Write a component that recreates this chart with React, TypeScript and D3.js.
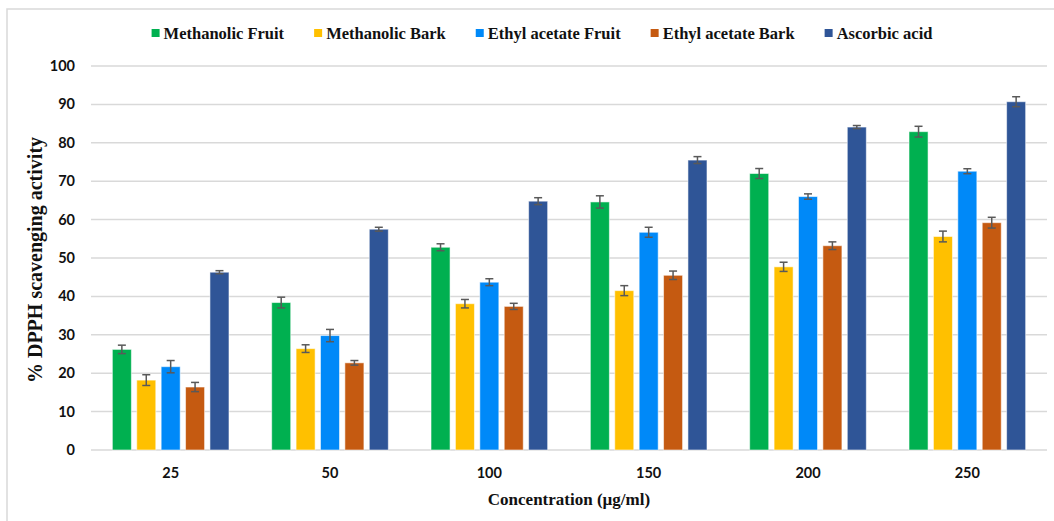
import React, { useEffect, useRef } from "react";
import * as d3 from "d3";

const concentrations = ["25", "50", "100", "150", "200", "250"];
const seriesNames = [
  "Methanolic Fruit",
  "Methanolic Bark",
  "Ethyl acetate Fruit",
  "Ethyl acetate Bark",
  "Ascorbic acid",
];
const colors = ["#00B050", "#FFC000", "#0089F8", "#C55A11", "#2F5597"];

const methanolicFruit = [26.2, 38.4, 52.8, 64.6, 72.0, 82.9];
const methanolicBark = [18.2, 26.4, 38.1, 41.5, 47.7, 55.6];
const ethylFruit = [21.7, 29.8, 43.7, 56.7, 66.0, 72.6];
const ethylBark = [16.4, 22.7, 37.4, 45.5, 53.2, 59.2];
const ascorbic = [46.3, 57.5, 64.8, 75.5, 84.1, 90.7];

const errFruit = [1.1, 1.4, 0.9, 1.6, 1.3, 1.4];
const errBark = [1.4, 1.0, 1.1, 1.3, 1.2, 1.4];
const errEthylFruit = [1.6, 1.6, 0.9, 1.3, 0.7, 0.65];
const errEthylBark = [1.2, 0.6, 0.8, 1.1, 1.0, 1.4];
const errAscorbic = [0.4, 0.5, 0.9, 0.9, 0.4, 1.3];

const yTicks = [0, 10, 20, 30, 40, 50, 60, 70, 80, 90, 100];

const values = [methanolicFruit, methanolicBark, ethylFruit, ethylBark, ascorbic];
const errors = [errFruit, errBark, errEthylFruit, errEthylBark, errAscorbic];

const width = 1054;
const height = 521;
const margin = { top: 66, left: 91, bottom: 71, right: 7 };
const iwidth = width - margin.left - margin.right;
const iheight = height - margin.top - margin.bottom;

const serif = "'Liberation Serif', 'Times New Roman', serif";
const sans = "Lato, 'Liberation Sans', sans-serif";

export default function App() {
  const legendRef = useRef<SVGGElement>(null);

  const x = d3.scaleBand().domain(concentrations).range([0, iwidth]).padding(0);
  const xs = d3
    .scaleBand()
    .domain(seriesNames)
    .range([0, x.bandwidth()])
    .paddingInner(0.22)
    .paddingOuter(0.875);
  const y = d3.scaleLinear().domain([0, 100]).range([iheight, 0]);

  useEffect(() => {
    // lay out legend items one after another, centred
    const g = d3.select(legendRef.current);
    const items = g.selectAll<SVGGElement, string>("g.item");
    const gap = 30;
    let cursor = 0;
    items.each(function () {
      const item = d3.select(this);
      const t = item.select<SVGTextElement>("text").node();
      const w = t ? t.getComputedTextLength() : 0;
      item.attr("transform", `translate(${cursor},0)`);
      cursor += 12 + w + gap;
    });
    const total = cursor - gap;
    g.attr("transform", `translate(${542 - total / 2},33)`);
  }, []);

  return (
    <svg
      width={width}
      height={height}
      style={{ position: "absolute", left: 0, top: 0, background: "#fff" }}
    >
      <rect x={7} y={9} width={width} height={height} fill="#fff" stroke="#d9d9d9" strokeWidth={1.5} />

      <g ref={legendRef}>
        {seriesNames.map((name, i) => (
          <g className="item" key={name}>
            <rect x={0} y={-4} width={8} height={8} fill={colors[i]} />
            <text
              x={12}
              y={0}
              dy="0.35em"
              fontFamily={serif}
              fontWeight="bold"
              fontSize={16.5}
              fill="#111"
            >
              {name}
            </text>
          </g>
        ))}
      </g>

      <g transform={`translate(${margin.left},${margin.top})`}>
        {yTicks.map((t) => (
          <g key={t}>
            <line x1={0} x2={iwidth} y1={y(t)} y2={y(t)} stroke="#d9d9d9" strokeWidth={1.5} />
            <text
              x={-16}
              y={y(t)}
              dy="0.35em"
              textAnchor="end"
              fontFamily={sans}
              fontWeight="bold"
              fontSize={14.5}
              fill="#111"
            >
              {t}
            </text>
          </g>
        ))}

        {concentrations.map((c, ci) => (
          <g key={c} transform={`translate(${x(c)},0)`}>
            {seriesNames.map((s, si) => {
              const v = values[si][ci];
              const e = errors[si][ci];
              const bx = xs(s) as number;
              const cx = bx + xs.bandwidth() / 2;
              return (
                <g key={s}>
                  <rect
                    x={bx}
                    y={y(v)}
                    width={xs.bandwidth()}
                    height={iheight - y(v)}
                    fill={colors[si]}
                    stroke="#fff"
                    strokeOpacity={0.55}
                    strokeWidth={1}
                  />
                  <g stroke="#595959" strokeWidth={1.5}>
                    <line x1={cx} x2={cx} y1={y(v + e)} y2={y(v - e)} />
                    <line x1={cx - 4} x2={cx + 4} y1={y(v + e)} y2={y(v + e)} />
                    <line x1={cx - 4} x2={cx + 4} y1={y(v - e)} y2={y(v - e)} />
                  </g>
                </g>
              );
            })}
            <text
              x={x.bandwidth() / 2}
              y={iheight + 23}
              dy="0.35em"
              textAnchor="middle"
              fontFamily={sans}
              fontWeight="bold"
              fontSize={14.5}
              fill="#111"
            >
              {c}
            </text>
          </g>
        ))}

        <text
          x={iwidth / 2}
          y={iheight + 55}
          textAnchor="middle"
          fontFamily={serif}
          fontWeight="bold"
          fontSize={17}
          fill="#111"
        >
          Concentration (µg/ml)
        </text>

        <text
          transform={`translate(${-49},${iheight / 2 + 2}) rotate(-90)`}
          textAnchor="middle"
          fontFamily={serif}
          fontWeight="bold"
          fontSize={20}
          fill="#111"
        >
          % DPPH scavenging activity
        </text>
      </g>
    </svg>
  );
}
